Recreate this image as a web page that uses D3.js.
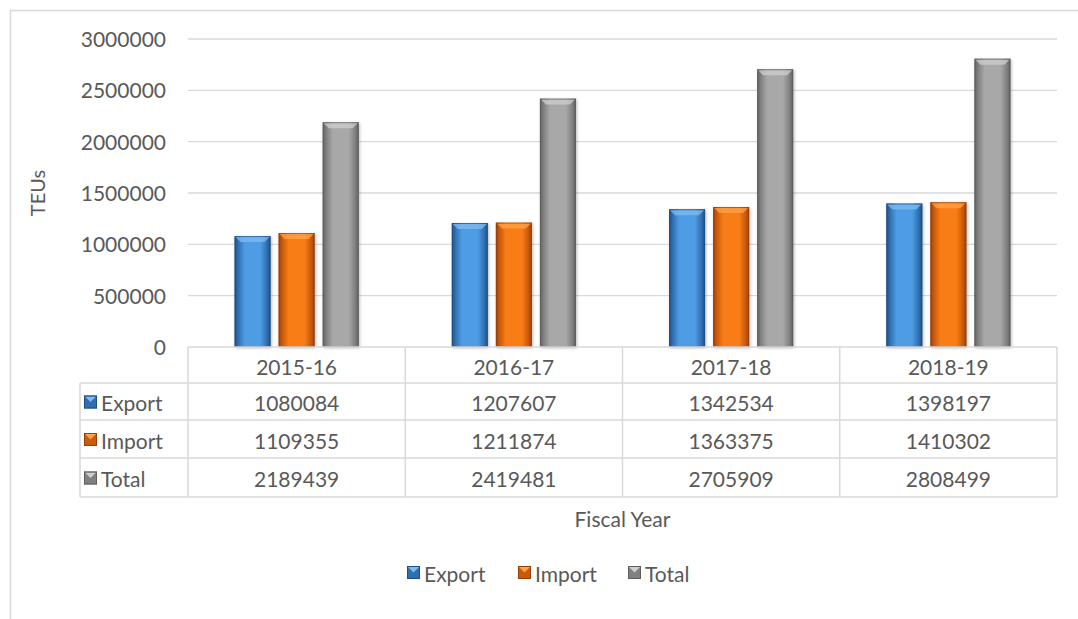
<!DOCTYPE html>
<html>
<head>
<meta charset="utf-8">
<script src="https://cdn.jsdelivr.net/npm/d3@7"></script>
<style>
  html, body { margin: 0; padding: 0; background: #fff; }
  svg { display: block; }
  text { font-family: Lato, "Open Sans", sans-serif; fill: #595959; }
</style>
</head>
<body>
<svg id="chart" width="1078" height="619"></svg>
<script>
// Container throughput by fiscal year (TEUs)
const categories = ["2015-16", "2016-17", "2017-18", "2018-19"];
const seriesNames = ["Export", "Import", "Total"];
const exportValues = [1080084, 1207607, 1342534, 1398197];
const importValues = [1109355, 1211874, 1363375, 1410302];
const totalValues  = [2189439, 2419481, 2705909, 2808499];
const yTicks = [0, 500000, 1000000, 1500000, 2000000, 2500000, 3000000];

const seriesValues = { Export: exportValues, Import: importValues, Total: totalValues };
const palette = {
  Export: { edge: "#2f6fb0", mid: "#4d9ce4", light: "#7fbdf0", dark: "#1f4f82" },
  Import: { edge: "#c95a0b", mid: "#f97d14", light: "#ffa44a", dark: "#96400a" },
  Total:  { edge: "#808080", mid: "#a8a8a8", light: "#cfcfcf", dark: "#5e5e5e" }
};

const FS = "21px";
const svg = d3.select("#chart");
const defs = svg.append("defs");

// Side shading for the bevelled bars
seriesNames.forEach(s => {
  const c = palette[s];
  const g = defs.append("linearGradient").attr("id", "grad-" + s)
    .attr("x1", "0").attr("x2", "1").attr("y1", "0").attr("y2", "0");
  g.append("stop").attr("offset", "0%").attr("stop-color", c.dark);
  g.append("stop").attr("offset", "10%").attr("stop-color", c.edge);
  g.append("stop").attr("offset", "28%").attr("stop-color", c.mid);
  g.append("stop").attr("offset", "72%").attr("stop-color", c.mid);
  g.append("stop").attr("offset", "90%").attr("stop-color", c.edge);
  g.append("stop").attr("offset", "100%").attr("stop-color", c.dark);
});
const shadow = defs.append("filter").attr("id", "shadow")
  .attr("x", "-30%").attr("y", "-10%").attr("width", "160%").attr("height", "130%");
shadow.append("feDropShadow").attr("dx", 1).attr("dy", 1).attr("stdDeviation", 1.6)
  .attr("flood-color", "#000").attr("flood-opacity", 0.28);

// Chart frame
svg.append("path").attr("d", "M10.5,619 L10.5,10.5 L1078,10.5")
  .attr("fill", "none").attr("stroke", "#d9d9d9").attr("stroke-width", 1.5);

const plotLeft = 188, plotRight = 1057, plotTop = 39, plotBottom = 347;

const x0 = d3.scaleBand().domain(categories).range([plotLeft, plotRight]).paddingInner(0).paddingOuter(0);
const x1 = d3.scaleBand().domain(seriesNames).range([0, x0.bandwidth()])
  .paddingInner(8 / 44).paddingOuter(1.056);
const y = d3.scaleLinear().domain([0, 3000000]).range([plotBottom, plotTop]);

// Gridlines
svg.append("g").selectAll("line").data(yTicks.filter(t => t > 0)).join("line")
  .attr("x1", plotLeft).attr("x2", plotRight)
  .attr("y1", d => y(d)).attr("y2", d => y(d))
  .attr("stroke", "#d9d9d9").attr("stroke-width", 1.3);

// Y axis labels
const yAxis = d3.axisLeft(y).tickValues(yTicks).tickSize(0).tickPadding(0).tickFormat(d3.format("d"));
const yg = svg.append("g").attr("transform", `translate(${plotLeft - 22},0)`).call(yAxis);
yg.select(".domain").remove();
yg.selectAll("text").style("font-size", FS).attr("fill", "#595959")
  .style("font-family", "Lato, sans-serif").attr("dy", "0.35em");

// Axis titles
svg.append("text").attr("transform", `translate(37,${(plotTop + plotBottom) / 2}) rotate(-90)`)
  .attr("text-anchor", "middle").attr("dominant-baseline", "central")
  .style("font-size", "20px").text("TEUs");
svg.append("text").attr("x", (plotLeft + plotRight) / 2).attr("y", 518)
  .attr("text-anchor", "middle").attr("dominant-baseline", "central")
  .style("font-size", FS).text("Fiscal Year");

// Bars
function bevelBar(g, s, bx, by, bw, bh) {
  const c = palette[s];
  g.append("rect").attr("x", bx).attr("y", by).attr("width", bw).attr("height", bh)
    .attr("fill", `url(#grad-${s})`).attr("filter", "url(#shadow)");
  const b = Math.min(6, bh / 2);
  g.append("path")
    .attr("d", `M${bx + 1},${by + 1} L${bx + bw - 1},${by + 1} L${bx + bw - 6},${by + b} L${bx + 6},${by + b} Z`)
    .attr("fill", c.light).attr("opacity", 0.75);
  g.append("rect").attr("x", bx + 0.5).attr("y", by + 0.5).attr("width", bw - 1).attr("height", bh - 1)
    .attr("fill", "none").attr("stroke", c.dark).attr("stroke-width", 1).attr("opacity", 0.6);
}

const barsG = svg.append("g");
categories.forEach((cat, i) => {
  seriesNames.forEach(s => {
    const v = seriesValues[s][i];
    const bx = x0(cat) + x1(s);
    bevelBar(barsG, s, bx, y(v), x1.bandwidth(), y(0) - y(v));
  });
});

// Data table under the plot
const rowTops = [347, 383, 420, 458, 497];
const tableLeft = 80;
const tg = svg.append("g");
const lineColor = "#d9d9d9";
tg.append("line").attr("x1", plotLeft).attr("x2", plotRight).attr("y1", rowTops[0]).attr("y2", rowTops[0])
  .attr("stroke", lineColor).attr("stroke-width", 1.5);
rowTops.slice(1).forEach(ry => {
  tg.append("line").attr("x1", tableLeft).attr("x2", plotRight).attr("y1", ry).attr("y2", ry)
    .attr("stroke", lineColor).attr("stroke-width", 1.5);
});
tg.append("line").attr("x1", tableLeft).attr("x2", tableLeft).attr("y1", rowTops[1]).attr("y2", rowTops[4])
  .attr("stroke", lineColor).attr("stroke-width", 1.5);
categories.forEach(cat => {
  tg.append("line").attr("x1", x0(cat)).attr("x2", x0(cat)).attr("y1", rowTops[0]).attr("y2", rowTops[4])
    .attr("stroke", lineColor).attr("stroke-width", 1.5);
});
tg.append("line").attr("x1", plotRight).attr("x2", plotRight).attr("y1", rowTops[0]).attr("y2", rowTops[4])
  .attr("stroke", lineColor).attr("stroke-width", 1.5);

// header row: categories
categories.forEach(cat => {
  tg.append("text").attr("x", x0(cat) + x0.bandwidth() / 2).attr("y", (rowTops[0] + rowTops[1]) / 2 + 1)
    .attr("text-anchor", "middle").attr("dominant-baseline", "central")
    .style("font-size", FS).text(cat);
});

function legendKey(g, s, kx, ky, size) {
  const c = palette[s];
  g.append("rect").attr("x", kx).attr("y", ky).attr("width", size).attr("height", size).attr("fill", c.edge);
  g.append("path")
    .attr("d", `M${kx + 1},${ky + 1} L${kx + size - 1},${ky + 1} L${kx + size / 2},${ky + size * 0.5} Z`)
    .attr("fill", c.light);
  g.append("rect").attr("x", kx + 0.5).attr("y", ky + 0.5).attr("width", size - 1).attr("height", size - 1)
    .attr("fill", "none").attr("stroke", c.dark).attr("stroke-width", 1);
}

// value rows
seriesNames.forEach((s, r) => {
  const cy = (rowTops[r + 1] + rowTops[r + 2]) / 2 + 1;
  legendKey(tg, s, 84, cy - 7, 13);
  tg.append("text").attr("x", 101).attr("y", cy).attr("dominant-baseline", "central")
    .style("font-size", FS).text(s);
  categories.forEach((cat, i) => {
    tg.append("text").attr("x", x0(cat) + x0.bandwidth() / 2).attr("y", cy)
      .attr("text-anchor", "middle").attr("dominant-baseline", "central")
      .style("font-size", FS).text(seriesValues[s][i]);
  });
});

// Legend
const legendItems = [{ s: "Export", x: 407 }, { s: "Import", x: 518 }, { s: "Total", x: 628 }];
const lg = svg.append("g");
legendItems.forEach(d => {
  legendKey(lg, d.s, d.x, 566, 13);
  lg.append("text").attr("x", d.x + 17).attr("y", 573).attr("dominant-baseline", "central")
    .style("font-size", FS).text(d.s);
});
</script>
</body>
</html>
